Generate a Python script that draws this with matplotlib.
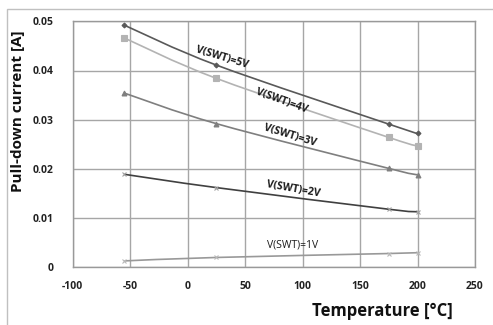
import matplotlib
matplotlib.use("Agg")
import matplotlib.pyplot as plt
from matplotlib.path import Path
from matplotlib.patches import PathPatch, Rectangle

plt.rcParams["axes.unicode_minus"] = False

temps = [-55, 25, 175, 200]
i_5v = [0.0492, 0.0411, 0.0291, 0.0272]
i_4v = [0.0466, 0.0384, 0.0264, 0.0247]
i_3v = [0.0354, 0.0292, 0.0201, 0.0188]
i_2v = [0.0189, 0.0162, 0.0118, 0.0113]
i_1v = [0.0013, 0.0020, 0.0028, 0.0030]
labels = ["V(SWT)=5V", "V(SWT)=4V", "V(SWT)=3V", "V(SWT)=2V", "V(SWT)=1V"]
xticks = [-100, -50, 0, 50, 100, 150, 200, 250]
yticks = [0, 0.01, 0.02, 0.03, 0.04, 0.05]
ytick_labels = ["0", "0.01", "0.02", "0.03", "0.04", "0.05"]

series = [i_5v, i_4v, i_3v, i_2v, i_1v]
colors = ["#595959", "#b3b3b3", "#7f7f7f", "#404040", "#999999"]
mcolors = ["#595959", "#b3b3b3", "#7f7f7f", "#a0a0a0", "#b8b8b8"]
markers = ["D", "s", "^", "x", "x"]
msizes = [2.5, 4, 3.5, 3, 3]
label_pos = [(30, 0.0427, -17), (82, 0.0338, -20), (89, 0.0267, -17), (92, 0.0159, -10), (91, 0.0046, 0)]
label_weight = ["bold", "bold", "bold", "bold", "normal"]

fig = plt.figure(figsize=(4.93, 3.25), dpi=100)
fig.patches.append(Rectangle((7 / 493, -0.1), 1.2, 1 - 9 / 325 + 0.1, transform=fig.transFigure,
                             fill=False, edgecolor="#c0c0c0", lw=1.0))
ax = fig.add_axes([72.7 / 493, 1 - 267.3 / 325, 402.3 / 493, 246 / 325])


def smooth_path(xs, ys):
    pts = list(zip(xs, ys))
    verts = [pts[0]]
    codes = [Path.MOVETO]
    n = len(pts)
    for i in range(n - 1):
        p0 = pts[i - 1] if i > 0 else pts[i]
        p1 = pts[i]
        p2 = pts[i + 1]
        p3 = pts[i + 2] if i + 2 < n else pts[i + 1]
        c1 = (p1[0] + (p2[0] - p0[0]) / 6, p1[1] + (p2[1] - p0[1]) / 6)
        c2 = (p2[0] - (p3[0] - p1[0]) / 6, p2[1] - (p3[1] - p1[1]) / 6)
        verts += [c1, c2, p2]
        codes += [Path.CURVE4] * 3
    return Path(verts, codes)


for ys, c, mc, m, ms in zip(series, colors, mcolors, markers, msizes):
    ax.add_patch(PathPatch(smooth_path(temps, ys), fill=False, edgecolor=c, lw=1.2, zorder=3))
    ax.plot(temps, ys, linestyle="none", marker=m, color=mc, markersize=ms,
            markeredgewidth=0.8, zorder=4)

for lab, (x, y, r), w in zip(labels, label_pos, label_weight):
    ax.text(x, y, lab, rotation=r, ha="center", va="center", fontsize=7.5,
            fontweight=w, color="#1a1a1a", family="Open Sans", rotation_mode="anchor", zorder=5)

ax.set_xlim(-100, 250)
ax.set_ylim(0, 0.05)
ax.set_xticks(xticks)
ax.set_yticks(yticks)
ax.set_yticklabels(ytick_labels)
ax.grid(True, color="#a6a6a6", lw=1.0)
ax.set_axisbelow(True)
for s in ax.spines.values():
    s.set_color("#999999")
    s.set_linewidth(1.0)
ax.tick_params(length=0, labelsize=7.5, colors="#222222")
ax.tick_params(axis="y", pad=14)
ax.tick_params(axis="x", pad=10)
for t in ax.get_xticklabels() + ax.get_yticklabels():
    t.set_fontweight("bold")
    t.set_family("Open Sans")

fig.text(18 / 493, 1 - 111 / 325, "Pull-down current [A]", rotation=90, ha="center", va="center",
         fontsize=11, fontweight="bold", family="Open Sans", color="#111111")
fig.text(382 / 493, 1 - 311 / 325, "Temperature [°C]", ha="center", va="center",
         fontsize=12, fontweight="bold", family="Open Sans", color="#111111")

fig.savefig("out.png", dpi=100)
